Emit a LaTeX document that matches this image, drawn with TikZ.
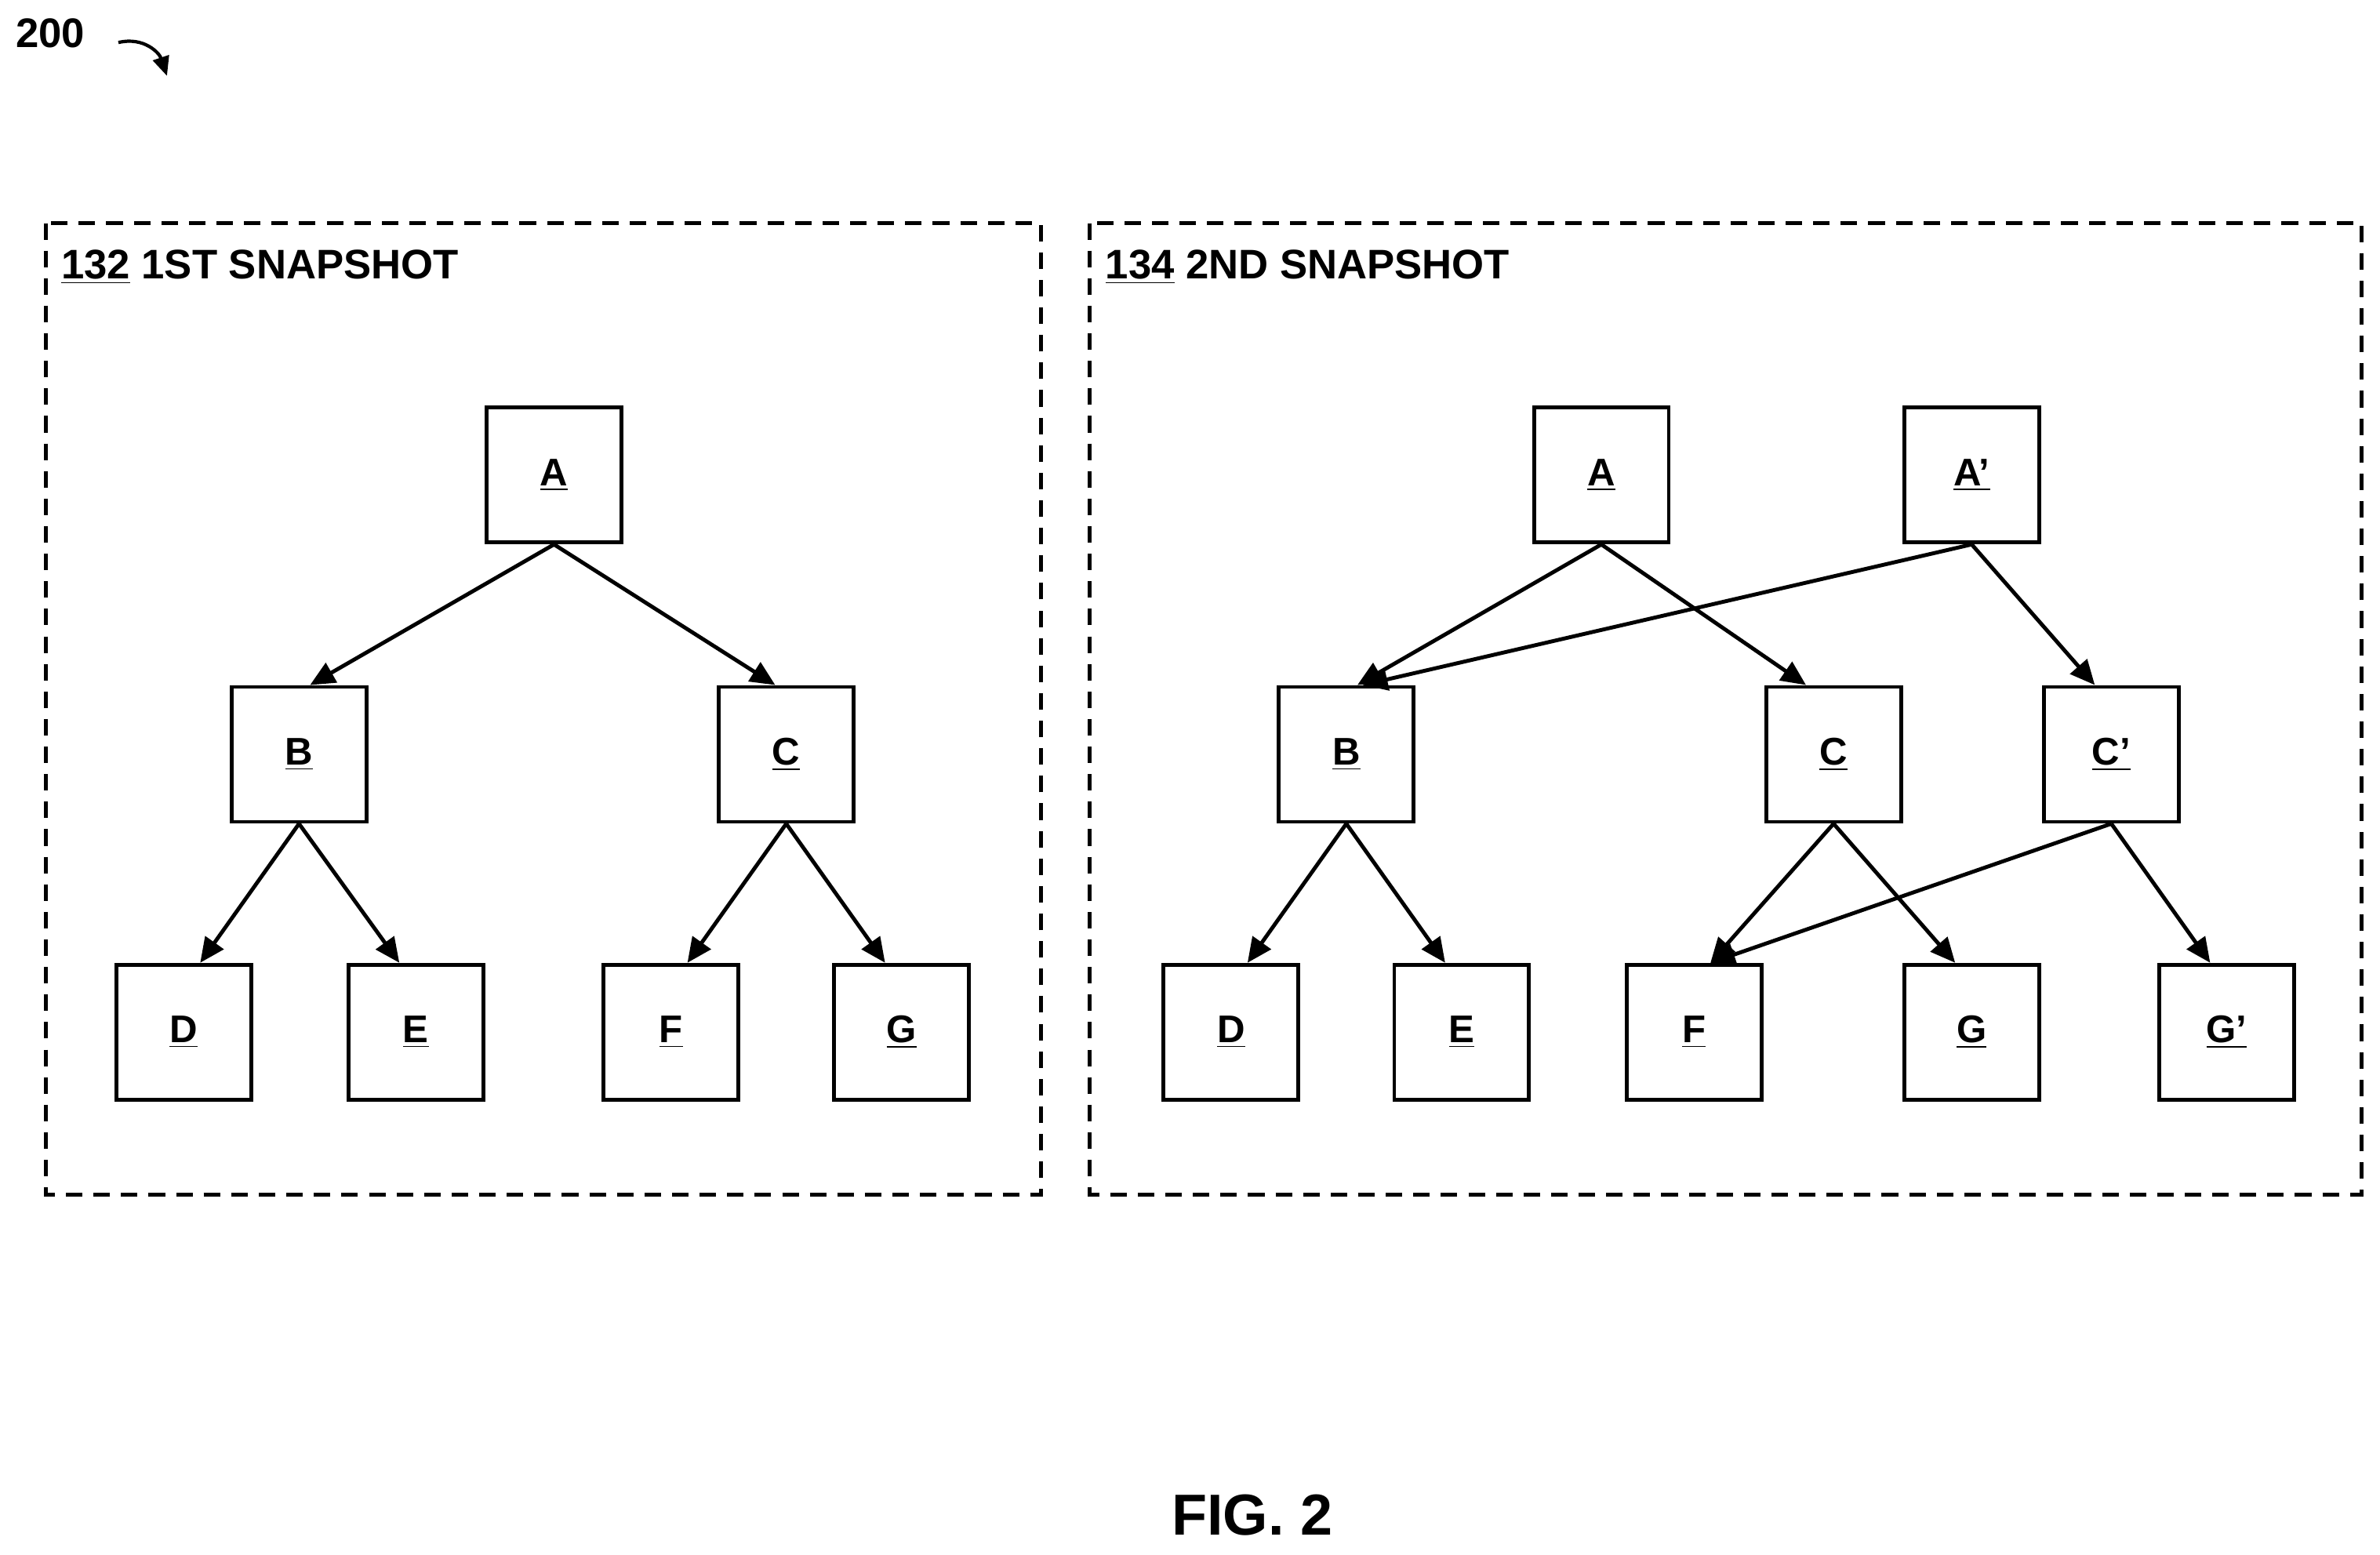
\documentclass[tikz,border=0pt]{standalone}
\usepackage{fontspec}
\setmainfont{Liberation Sans}
\usetikzlibrary{arrows.meta}
\begin{document}
\begin{tikzpicture}[x=0.019356cm,y=-0.019356cm,
  box/.style={draw,line width=1.4pt,minimum width=1.72cm,minimum height=1.72cm,inner sep=0pt,font=\fontsize{14}{16}\selectfont\bfseries},
  frame/.style={draw,line width=1.4pt,dash pattern=on 6pt off 4pt},
  arr/.style={line width=1.4pt,-{Triangle[length=9pt,width=8pt]}},
  ttl/.style={anchor=west,font=\fontsize{15}{18}\selectfont\bfseries,inner sep=0pt}]
\useasboundingbox (0,0) rectangle (1568,1024);
\node[ttl] (n200) at (10,22) {200};
\coordinate (c200) at (110,50);
\draw[line width=1.2pt,-{Triangle[length=7pt,width=6pt]}] (78,28) .. controls (95,24) and (105,35) .. (c200);
\draw[frame] (30,147) rectangle (686,787);
\draw[frame] (718,147) rectangle (1556,787);
\node[ttl] (t1) at (40,176) {\underline{132} 1ST SNAPSHOT};
\node[ttl] (t2) at (728,176) {\underline{134} 2ND SNAPSHOT};
% left
\node[box] (A) at (365,313) {\underline{A}};
\node[box] (B) at (197,497) {\underline{B}};
\node[box] (C) at (518,497) {\underline{C}};
\node[box] (D) at (121,680) {\underline{D}};
\node[box] (E) at (274,680) {\underline{E}};
\node[box] (F) at (442,680) {\underline{F}};
\node[box] (G) at (594,680) {\underline{G}};
\draw[arr] (A.south) -- ([xshift=4]B.north);
\draw[arr] (A.south) -- ([xshift=-4]C.north);
\draw[arr] (B.south) -- ([xshift=6]D.north);
\draw[arr] (B.south) -- ([xshift=-6]E.north);
\draw[arr] (C.south) -- ([xshift=6]F.north);
\draw[arr] (C.south) -- ([xshift=-6]G.north);
% right
\node[box] (A2) at (1055,313) {\underline{A}};
\node[box] (Ap) at (1299,313) {\underline{A’}};
\node[box] (B2) at (887,497) {\underline{B}};
\node[box] (C2) at (1208,497) {\underline{C}};
\node[box] (Cp) at (1391,497) {\underline{C’}};
\node[box] (D2) at (811,680) {\underline{D}};
\node[box] (E2) at (963,680) {\underline{E}};
\node[box] (F2) at (1116,680) {\underline{F}};
\node[box] (G2) at (1299,680) {\underline{G}};
\node[box] (Gp) at (1467,680) {\underline{G’}};
\draw[arr] (A2.south) -- ([xshift=4]B2.north);
\draw[arr] (A2.south) -- ([xshift=-10]C2.north);
\draw[arr] (Ap.south) -- ([xshift=6]B2.north);
\draw[arr] (Ap.south) -- ([xshift=-6]Cp.north);
\draw[arr] (B2.south) -- ([xshift=6]D2.north);
\draw[arr] (B2.south) -- ([xshift=-6]E2.north);
\draw[arr] (C2.south) -- ([xshift=6]F2.north);
\draw[arr] (C2.south) -- ([xshift=-6]G2.north);
\draw[arr] (Cp.south) -- ([xshift=6]F2.north);
\draw[arr] (Cp.south) -- ([xshift=-6]Gp.north);
\node[font=\fontsize{21}{24}\selectfont\bfseries] (fig) at (825,998) {FIG. 2};
\end{tikzpicture}
\end{document}
